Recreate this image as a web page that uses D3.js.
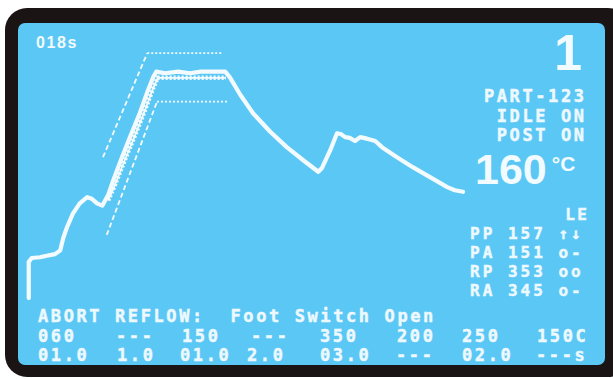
<!DOCTYPE html>
<html>
<head>
<meta charset="utf-8">
<script src="https://cdn.jsdelivr.net/npm/d3@7"></script>
<style>
  html, body { margin: 0; padding: 0; background: #ffffff; }
  svg { display: block; }
  .mono { font-family: "DejaVu Sans Mono", monospace; font-weight: bold; fill: #eef9ff;
          stroke: #eef9ff; stroke-width: 0.45; white-space: pre; }
  .sans { font-family: "Liberation Sans", Arial, sans-serif; font-weight: bold; fill: #f2fbff; }
</style>
</head>
<body>
<script>
// Oven temperature trace: seconds since start, °C
const traceTime = [1, 1, 5, 16, 25, 36, 43, 47, 52, 60, 69, 79, 85, 92, 99, 107, 113, 123, 136, 149, 160, 167, 171, 183, 200, 216, 230, 243, 263, 269, 283, 300, 323, 345, 367, 387, 392, 403, 412, 417, 423, 429, 436, 443, 452, 463, 472, 492, 513, 536, 559, 569, 580];
const traceTemp = [22, 69, 74, 75, 77, 79, 84, 100, 114, 132, 145, 153, 151, 145, 142, 156, 173, 199, 231, 262, 292, 309, 316, 314, 316, 314, 316, 316, 316, 309, 286, 262, 238, 218, 201, 186, 191, 214, 236, 235, 231, 230, 226, 231, 229, 226, 218, 205, 192, 179, 166, 162, 160];

// Previous pass over the ramp and dwell (drawn serrated)
const passTime = [107, 116, 129, 143, 156, 167, 173, 189, 210, 229, 248, 264];
const passTemp = [149, 169, 201, 234, 266, 295, 308, 308, 308, 308, 308, 308];

// Tolerance window around the ramp and dwell
const upperBandTime = [100, 159, 260];
const upperBandTemp = [205, 340, 340];
const lowerBandTime = [105, 172, 267];
const lowerBandTemp = [104, 277, 277];

// Readouts
const elapsedLabel = "018s";
const zoneLabel = "1";
const statusLines = ["PART-123", "IDLE ON", "POST ON"];
const currentTemp = 160;
const loopHeader = "LE";
const loopRows = ["PP 157 ↑↓", "PA 151 o-", "RP 353 oo", "RA 345 o-"];
const messageLine = "ABORT REFLOW:  Foot Switch Open";
const stepTemps = ["060", "---", "150", "---", "350", "200", "250", "150C"];
const stepTimes = ["01.0", "1.0", "01.0", "2.0", "03.0", "---", "02.0", "---s"];

const W = 613, H = 379;
const svg = d3.select("body").append("svg").attr("width", W).attr("height", H);

// Bezel and screen
svg.append("rect").attr("x", 5).attr("y", 8).attr("width", 625).attr("height", 369)
  .attr("rx", 22).attr("fill", "#1b1414");
svg.append("rect").attr("x", 18).attr("y", 23).attr("width", 587).attr("height", 342)
  .attr("rx", 7).attr("fill", "#5bc7f4");

const x = d3.scaleLinear().domain([0, 580]).range([28, 463]);
const y = d3.scaleLinear().domain([0, 400]).range([315, 7]);
const line = d3.line().x(d => x(d[0])).y(d => y(d[1]));
const zipPts = (t, v) => t.map((d, i) => [d, v[i]]);

const plot = svg.append("g").attr("fill", "none").attr("stroke", "#f4fbff");

// Tolerance bands: dashed ramp, dotted dwell
[[upperBandTime, upperBandTemp], [lowerBandTime, lowerBandTemp]].forEach(([t, v]) => {
  const pts = zipPts(t, v);
  plot.append("path").attr("d", line(pts.slice(0, 2)))
    .attr("stroke-width", 1.8).attr("stroke-dasharray", "5,3");
  plot.append("path").attr("d", line(pts.slice(1)))
    .attr("stroke-width", 1.8).attr("stroke-dasharray", "2,2");
});

// Previous pass (serrated)
plot.append("path").attr("d", line(zipPts(passTime, passTemp)))
  .attr("stroke-width", 1.8);
plot.append("path").attr("d", line(zipPts(passTime, passTemp)))
  .attr("stroke-width", 4.5).attr("stroke-dasharray", "2,2");

// Live trace
plot.append("path").attr("d", line(zipPts(traceTime, traceTemp)))
  .attr("stroke-width", 4.2).attr("stroke-linejoin", "round").attr("stroke-linecap", "round");

// Top-left elapsed time
svg.append("text").attr("class", "sans").attr("x", 36).attr("y", 48)
  .attr("font-size", 16).attr("letter-spacing", 1.6).text(elapsedLabel);

// Zone number
svg.append("text").attr("class", "sans").attr("x", 582).attr("y", 70)
  .attr("text-anchor", "end").attr("font-size", 50).text(zoneLabel);

// Status lines (right aligned)
const LS = 2.6;
svg.selectAll("text.status").data(statusLines).join("text")
  .attr("class", "mono status").attr("x", 584 + LS).attr("y", (d, i) => 102 + i * 19.5)
  .attr("text-anchor", "end").attr("font-size", 17).attr("letter-spacing", LS).text(d => d);

// Current temperature
const tempText = svg.append("text").attr("class", "sans").attr("x", 475).attr("y", 184)
  .attr("font-size", 43);
tempText.append("tspan").text(currentTemp);
tempText.append("tspan").attr("font-size", 21).attr("dx", 5).attr("dy", -13).text("°C");

// Loop readouts
svg.append("text").attr("class", "mono").attr("x", 587 + LS).attr("y", 220)
  .attr("text-anchor", "end").attr("font-size", 16).attr("letter-spacing", LS).text(loopHeader);
svg.selectAll("text.loop").data(loopRows).join("text")
  .attr("class", "mono loop").attr("x", 470).attr("y", (d, i) => 239 + i * 19)
  .attr("font-size", 16).attr("letter-spacing", 3.0).text(d => d);

// Bottom message and step table
svg.append("text").attr("class", "mono").attr("x", 38).attr("y", 322)
  .attr("font-size", 17).attr("letter-spacing", LS).text(messageLine);

const colTemp = [38, 116, 182, 251, 320, 397, 462, 537];
const colTime = [38, 117, 180, 247, 320, 396, 462, 536];
svg.selectAll("text.stepT").data(stepTemps).join("text")
  .attr("class", "mono stepT").attr("x", (d, i) => colTemp[i]).attr("y", 342)
  .attr("font-size", 17).attr("letter-spacing", LS).text(d => d);
svg.selectAll("text.stepS").data(stepTimes).join("text")
  .attr("class", "mono stepS").attr("x", (d, i) => colTime[i]).attr("y", 361)
  .attr("font-size", 17).attr("letter-spacing", LS).text(d => d);
</script>
</body>
</html>
